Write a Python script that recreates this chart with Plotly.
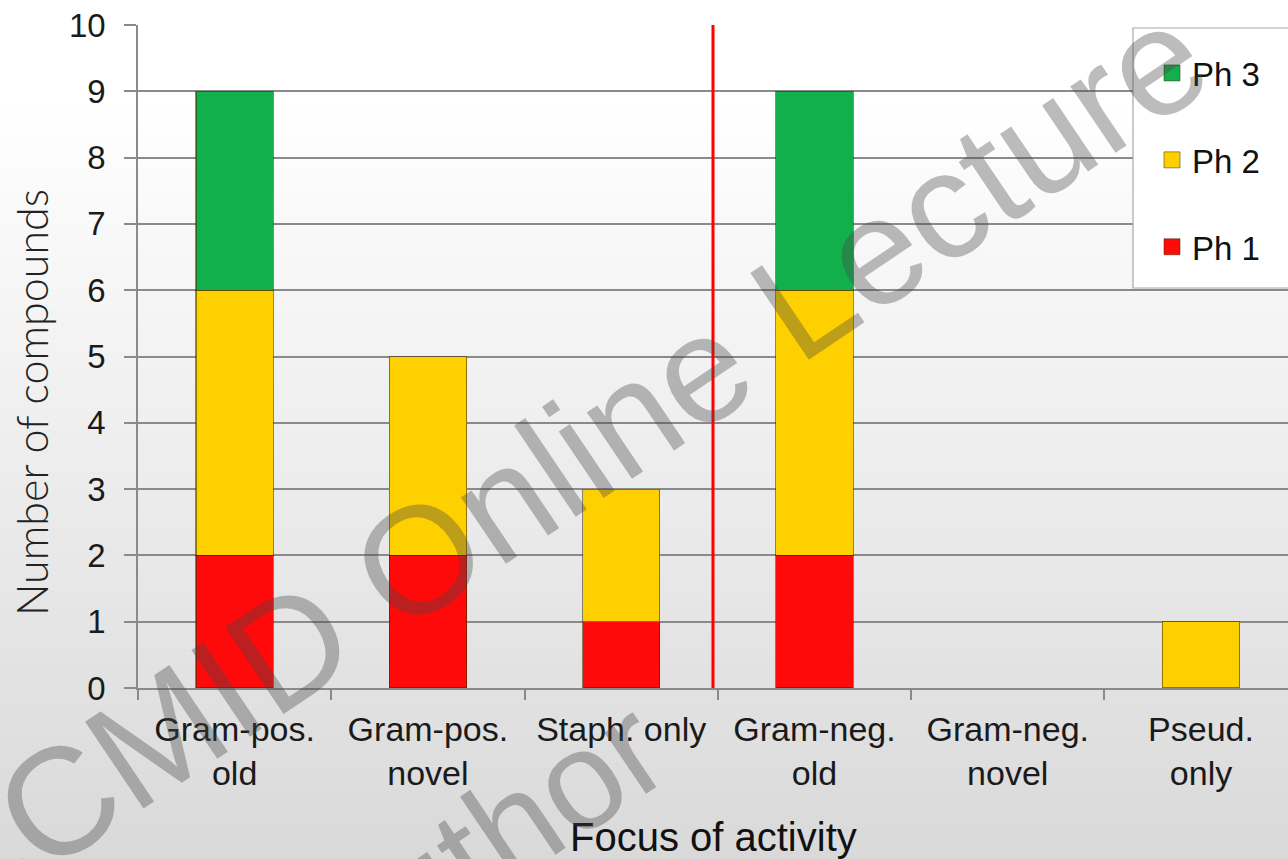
import plotly.graph_objects as go

# ---- data -------------------------------------------------------------
categories = ["Gram-pos.<br>old", "Gram-pos.<br>novel", "Staph. only",
              "Gram-neg.<br>old", "Gram-neg.<br>novel", "Pseud.<br>only"]
ph1 = [2, 2, 1, 2, 0, 0]
ph2 = [4, 3, 2, 4, 0, 1]
ph3 = [3, 0, 0, 3, 0, 0]
y_ticks = list(range(0, 11))

series = [("Ph 1", ph1, "#ff0a0a"), ("Ph 2", ph2, "#ffd000"), ("Ph 3", ph3, "#12b04c")]

# ---- geometry (pixels) --------------------------------------------------
W, H = 1288, 859
ML, MR, MT, MB = 138, 0, 25, 171
PW, PH = W - ML - MR, H - MT - MB


def px_x(p):
    return (p - ML) / PW


def px_y(p):
    return (H - MB - p) / PH


fig = go.Figure()

for rank, (name, vals, col) in enumerate(series):
    # empty segments are left out so no outline is drawn at zero
    fig.add_trace(go.Bar(
        x=categories, y=[v if v else None for v in vals], name=name,
        legendgroup=name, showlegend=False,
        marker=dict(color=col, line=dict(color="rgba(60,40,0,0.55)", width=1.2)),
        width=0.4,
    ))
    # square legend swatch, highest phase listed first
    fig.add_trace(go.Scatter(
        x=[None], y=[None], mode="markers", name=name, legendgroup=name,
        legendrank=100 - rank,
        marker=dict(symbol="square", size=16, color=col,
                    line=dict(color="rgba(60,40,0,0.5)", width=1)),
    ))

shapes = []
# vertical grey gradient behind everything
n_bands = 90
top_px, bot_px = 100, H
for i in range(n_bands):
    y0 = top_px + (bot_px - top_px) * i / n_bands
    y1 = top_px + (bot_px - top_px) * (i + 1) / n_bands + 0.6
    g = round(255 - 38 * (i + 0.5) / n_bands)
    shapes.append(dict(type="rect", xref="paper", yref="paper", layer="below",
                       x0=px_x(0), x1=px_x(W + 2), y0=px_y(y1), y1=px_y(y0),
                       fillcolor=f"rgb({g},{g},{g})", line=dict(width=0)))

# legend box
shapes.append(dict(type="rect", xref="paper", yref="paper", layer="above",
                   x0=px_x(1133), x1=px_x(W + 20), y0=px_y(288), y1=px_y(28),
                   fillcolor="white", line=dict(color="#a8a8a8", width=1.2)))

# red divider between Gram-positive and Gram-negative groups
shapes.append(dict(type="line", xref="x", yref="y", layer="above",
                   x0=2.475, x1=2.475, y0=-0.08, y1=10,
                   line=dict(color="#ff0000", width=3)))

annotations = [
    dict(text="Number of compounds", xref="paper", yref="paper",
         x=px_x(31), y=px_y(403), textangle=-90, showarrow=False,
         font=dict(family="Lato, Open Sans", size=43, color="#222222", weight=300),
         xanchor="center", yanchor="middle"),
    dict(text="Focus of activity", xref="paper", yref="paper",
         x=px_x(713), y=px_y(837), showarrow=False,
         font=dict(family="Arial, Liberation Sans", size=40, color="#111111"),
         xanchor="center", yanchor="middle"),
    # watermark
    dict(text="CCMID Online Lecture", xref="paper", yref="paper",
         x=px_x(555), y=px_y(467), textangle=-34, showarrow=False,
         font=dict(family="Arial, Liberation Sans", size=152, color="rgba(70,70,70,0.36)"),
         xanchor="center", yanchor="middle"),
    dict(text="Author", xref="paper", yref="paper",
         x=px_x(478), y=px_y(848), textangle=-34, showarrow=False,
         font=dict(family="Arial, Liberation Sans", size=140, color="rgba(70,70,70,0.36)"),
         xanchor="center", yanchor="middle"),
]

fig.update_layout(
    width=W, height=H,
    margin=dict(l=ML, r=MR, t=MT, b=MB, pad=0),
    barmode="stack",
    paper_bgcolor="rgba(0,0,0,0)", plot_bgcolor="rgba(0,0,0,0)",
    font=dict(family="Arial, Liberation Sans", color="#1a1a1a"),
    shapes=shapes, annotations=annotations,
    legend=dict(x=px_x(1152), y=px_y(45), xanchor="left", yanchor="top",
                bgcolor="rgba(0,0,0,0)", borderwidth=0,
                traceorder="grouped", tracegroupgap=41,
                font=dict(size=33, color="#111111")),
    xaxis=dict(range=[-0.5, 5.45], tickson="boundaries", ticks="outside",
               ticklen=10, tickcolor="#8a8a8a", tickwidth=1.5,
               showline=True, linecolor="#8a8a8a", linewidth=1.5,
               showgrid=False, tickfont=dict(size=34, color="#1a1a1a"),
               ticklabelstandoff=10, fixedrange=True),
    yaxis=dict(range=[0, 10], tickvals=y_ticks, ticks="outside", ticklen=12,
               tickcolor="#8a8a8a", tickwidth=1.5,
               showline=True, linecolor="#8a8a8a", linewidth=1.5,
               showgrid=True, gridcolor="#8a8a8a", gridwidth=1.6,
               zeroline=False, tickfont=dict(size=33, color="#1a1a1a"),
               ticklabelstandoff=12, fixedrange=True),
)

fig.write_html("out.html")
